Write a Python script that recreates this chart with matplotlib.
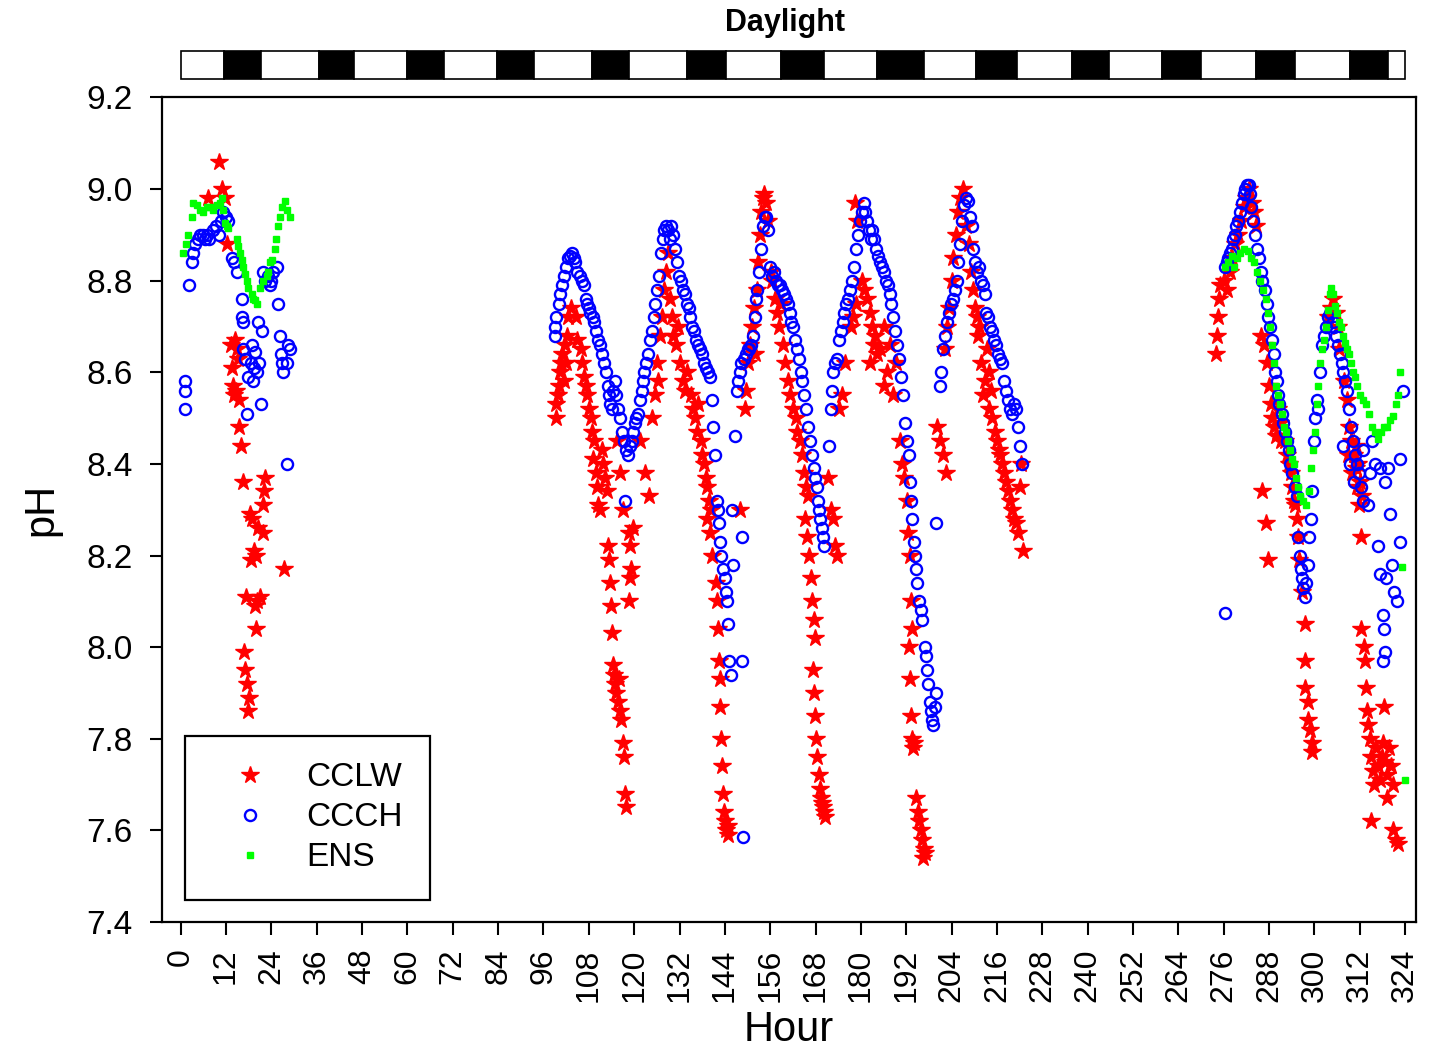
import matplotlib
matplotlib.use("Agg")
import matplotlib.pyplot as plt
from matplotlib.patches import Rectangle

plt.rcParams['font.family'] = ['Liberation Sans', 'DejaVu Sans']

# dark periods (hour start, hour end) for the Daylight bar
dark_start = [11.5, 36.6, 59.9, 83.6, 108.8, 133.9, 158.8, 184.3, 210.5, 235.9, 259.8, 284.5, 309.4]
dark_end = [21.2, 45.8, 69.7, 93.5, 118.6, 144.3, 170.3, 196.7, 221.2, 245.6, 269.9, 294.9, 319.4]

# CCLW (red stars), (hour, pH)
cclw_a = [(10.2, 9.06), (7.3, 8.98), (10.8, 9.00), (11.7, 8.98), (12.2, 8.88), (14.4, 8.67),
          (15.2, 8.63), (13.5, 8.61), (13.8, 8.57), (14.5, 8.56), (14.0, 8.55), (15.5, 8.54),
          (15.5, 8.48), (16.0, 8.44), (16.4, 8.36), (22.3, 8.37), (22.0, 8.34), (21.9, 8.31),
          (18.3, 8.29), (18.8, 8.28), (20.5, 8.26), (21.7, 8.25), (19.4, 8.21), (19.9, 8.20),
          (18.5, 8.19), (27.2, 8.17), (17.3, 8.11), (21.0, 8.11), (20.3, 8.10), (19.7, 8.09),
          (19.9, 8.04), (16.8, 7.99), (17.0, 7.95), (17.5, 7.92), (18.0, 7.89), (17.8, 7.86),
          (14.8, 8.65), (13.2, 8.66)]
cclw_b = [(99.2, 8.50), (99.4, 8.53), (99.8, 8.55), (100.2, 8.57), (100.4, 8.60), (100.7, 8.62),
          (101.0, 8.64), (101.3, 8.58), (101.6, 8.66), (102.0, 8.62), (102.3, 8.68), (102.6, 8.72),
          (103.4, 8.74), (104.5, 8.72), (105.0, 8.67), (105.8, 8.65), (106.3, 8.62), (106.8, 8.59),
          (107.2, 8.57), (107.6, 8.55), (108.0, 8.52), (108.5, 8.50), (108.9, 8.47), (109.3, 8.45),
          (109.0, 8.41), (109.8, 8.38), (110.2, 8.35), (110.5, 8.31), (111.0, 8.30), (111.4, 8.43),
          (111.8, 8.40), (112.3, 8.37), (112.7, 8.34), (113.0, 8.22), (113.4, 8.19), (113.6, 8.14),
          (113.9, 8.09), (114.2, 8.03), (114.5, 7.96), (114.7, 7.94), (115.0, 7.92), (115.3, 7.90),
          (115.7, 7.88), (116.0, 7.93), (116.3, 7.86), (116.6, 7.84), (117.0, 7.79), (117.3, 7.76),
          (117.6, 7.68), (117.8, 7.65), (115.5, 8.45), (116.2, 8.38), (117.0, 8.30), (118.5, 8.25),
          (118.9, 8.22), (119.2, 8.17), (119.0, 8.15), (118.7, 8.10), (119.6, 8.26), (121.6, 8.45),
          (122.8, 8.38), (123.9, 8.33), (124.8, 8.50), (125.5, 8.55), (126.0, 8.62), (126.3, 8.58),
          (126.8, 8.68), (127.3, 8.72), (127.8, 8.78), (128.3, 8.82), (128.9, 8.86), (129.6, 8.76),
          (130.0, 8.72), (130.4, 8.68), (131.0, 8.66), (131.5, 8.70), (132.2, 8.62), (132.8, 8.58),
          (133.5, 8.56), (134.0, 8.60), (135.0, 8.55), (135.5, 8.52), (136.0, 8.50), (136.6, 8.47),
          (137.0, 8.53), (137.6, 8.45), (138.0, 8.42), (138.5, 8.40), (139.0, 8.37), (139.4, 8.35),
          (139.8, 8.32), (139.2, 8.28), (140.0, 8.25), (140.6, 8.20), (140.3, 8.30), (141.6, 8.14),
          (141.9, 8.10), (142.2, 8.04), (142.4, 7.97), (142.6, 7.93), (142.8, 7.87), (143.1, 7.80),
          (143.3, 7.74), (143.6, 7.68), (143.9, 7.64), (144.1, 7.62), (144.4, 7.60), (144.7, 7.59),
          (144.9, 7.61), (148.0, 8.30), (149.2, 8.52), (149.6, 8.56), (150.2, 8.62), (150.6, 8.66),
          (151.1, 8.70), (151.6, 8.74), (151.9, 8.64), (152.5, 8.78), (152.9, 8.84), (153.2, 8.90),
          (153.6, 8.95), (154.0, 8.98), (154.4, 8.99), (154.9, 8.97), (155.3, 8.93), (156.1, 8.82),
          (156.6, 8.80), (157.2, 8.76), (157.8, 8.73), (158.4, 8.70), (158.9, 8.75), (159.4, 8.66),
          (160.0, 8.62), (160.6, 8.58), (161.2, 8.55), (161.9, 8.52), (162.7, 8.50), (163.2, 8.47),
          (163.8, 8.45), (164.3, 8.42), (164.9, 8.38), (165.4, 8.35), (165.9, 8.33), (165.2, 8.28),
          (165.7, 8.24), (166.2, 8.20), (166.7, 8.15), (167.1, 8.10), (167.5, 8.06), (167.9, 8.02),
          (167.3, 7.95), (167.6, 7.90), (167.9, 7.85), (168.2, 7.80), (168.5, 7.76), (168.8, 7.72),
          (169.1, 7.69), (169.4, 7.67), (169.7, 7.66), (170.0, 7.65), (170.3, 7.64), (170.6, 7.63),
          (171.4, 8.37), (172.1, 8.30), (172.6, 8.28), (173.2, 8.22), (173.7, 8.20), (174.3, 8.52),
          (175.0, 8.55), (175.7, 8.62), (177.3, 8.70), (178.0, 8.72), (178.6, 8.75), (178.4, 8.97),
          (179.1, 8.93), (180.3, 8.80), (180.9, 8.78), (181.6, 8.76), (182.3, 8.73), (182.9, 8.70),
          (183.5, 8.66), (184.2, 8.64), (182.5, 8.62), (183.8, 8.68), (185.1, 8.65), (186.2, 8.70),
          (187.0, 8.60), (187.8, 8.66), (186.0, 8.57), (188.5, 8.55), (189.2, 8.62), (190.3, 8.45),
          (190.9, 8.40), (191.5, 8.37), (192.1, 8.32), (192.4, 8.25), (192.9, 8.20), (193.3, 8.10),
          (193.6, 8.04), (192.7, 8.00), (193.0, 7.93), (193.2, 7.85), (193.5, 7.80), (193.8, 7.78),
          (194.1, 7.79), (194.6, 7.67), (195.0, 7.64), (195.4, 7.62), (195.8, 7.60), (196.2, 7.58),
          (196.6, 7.56), (196.9, 7.55), (196.4, 7.54), (200.2, 8.48), (200.9, 8.45), (201.6, 8.42),
          (202.4, 8.38), (202.2, 8.65), (202.8, 8.70), (203.4, 8.74), (204.0, 8.80), (204.5, 8.85),
          (205.1, 8.90), (205.6, 8.95), (206.3, 8.98), (206.9, 9.00), (207.9, 8.92), (208.5, 8.88),
          (209.1, 8.82), (209.7, 8.78), (210.3, 8.74), (210.8, 8.72), (211.3, 8.70), (211.0, 8.68),
          (211.7, 8.62), (212.3, 8.55), (212.9, 8.58), (213.4, 8.65), (213.9, 8.60), (214.4, 8.56),
          (214.0, 8.52), (214.8, 8.50), (215.4, 8.47), (215.9, 8.45), (216.5, 8.43), (216.9, 8.42),
          (217.4, 8.40), (217.9, 8.38), (218.4, 8.36), (218.9, 8.34), (219.4, 8.32), (219.9, 8.30),
          (220.4, 8.28), (221.0, 8.27), (221.6, 8.25), (222.9, 8.21), (222.2, 8.35), (222.5, 8.40)]
cclw_c = [(274.0, 8.64), (274.2, 8.68), (274.5, 8.72), (274.8, 8.76), (275.1, 8.79), (276.0, 8.80),
          (277.0, 8.78), (277.7, 8.82), (278.2, 8.85), (279.0, 8.88), (279.8, 8.90), (280.5, 8.93),
          (281.3, 8.96), (282.0, 8.98), (282.8, 9.00), (283.5, 8.97), (284.0, 8.95), (284.5, 8.92),
          (285.9, 8.68), (286.6, 8.66), (287.5, 8.62), (287.9, 8.57), (288.4, 8.53), (288.8, 8.50),
          (289.3, 8.48), (289.8, 8.46), (290.3, 8.52), (290.8, 8.49), (291.3, 8.45), (286.2, 8.34),
          (287.3, 8.27), (287.7, 8.19), (292.2, 8.45), (292.8, 8.42), (293.3, 8.40), (293.8, 8.38),
          (294.2, 8.35), (294.6, 8.32), (294.9, 8.31), (295.3, 8.28), (295.6, 8.24), (295.9, 8.19),
          (296.7, 8.12), (297.5, 8.05), (297.5, 7.97), (297.6, 7.91), (298.3, 7.88), (298.4, 7.84),
          (298.8, 7.82), (299.4, 7.79), (299.5, 7.77), (303.6, 8.72), (304.3, 8.74), (305.0, 8.76),
          (305.6, 8.73), (306.3, 8.70), (306.5, 8.65), (307.8, 8.58), (308.6, 8.54), (309.2, 8.48),
          (309.7, 8.45), (310.5, 8.42), (311.0, 8.39), (311.3, 8.35), (311.8, 8.31), (312.3, 8.24),
          (308.9, 8.42), (310.0, 8.38), (310.9, 8.44), (311.6, 8.40), (312.0, 8.36), (312.6, 8.33),
          (312.4, 8.04), (313.2, 8.00), (313.4, 7.97), (313.6, 7.91), (313.9, 7.86), (314.2, 7.83),
          (314.6, 7.80), (315.0, 7.76), (315.5, 7.73), (315.9, 7.70), (316.4, 7.78), (316.9, 7.74),
          (317.3, 7.71), (317.8, 7.76), (318.2, 7.79), (318.7, 7.75), (319.2, 7.72), (319.7, 7.78),
          (320.3, 7.74), (320.8, 7.70), (318.4, 7.87), (315.1, 7.62), (319.2, 7.67), (320.8, 7.60),
          (321.6, 7.58), (322.2, 7.57)]

# CCCH (blue open circles), (hour, pH)
ccch_a = [(1.0, 8.56), (1.2, 8.58), (1.1, 8.52), (2.3, 8.79), (2.9, 8.84), (3.3, 8.86), (3.8, 8.88),
          (4.6, 8.89), (5.2, 8.90), (5.8, 8.90), (6.4, 8.89), (7.0, 8.90), (7.6, 8.89), (8.6, 8.91),
          (9.3, 8.92), (10.0, 8.90), (10.6, 8.93), (11.3, 8.95), (12.0, 8.94), (12.5, 8.93),
          (13.6, 8.85), (14.2, 8.84), (14.9, 8.82), (16.1, 8.76), (16.1, 8.72), (16.5, 8.71),
          (20.5, 8.71), (21.4, 8.69), (18.8, 8.66), (19.7, 8.645), (16.6, 8.65), (17.0, 8.63),
          (18.5, 8.62), (19.4, 8.61), (20.2, 8.60), (17.8, 8.59), (19.0, 8.58), (20.6, 8.62),
          (17.5, 8.51), (21.2, 8.53), (21.8, 8.82), (22.4, 8.80), (23.0, 8.81), (23.6, 8.79),
          (24.0, 8.80), (24.4, 8.82), (25.4, 8.83), (25.8, 8.75), (26.3, 8.68), (26.5, 8.64),
          (26.8, 8.62), (27.0, 8.60), (28.4, 8.66), (28.9, 8.65), (28.0, 8.62), (28.0, 8.40)]
ccch_b = [(99.0, 8.68), (99.0, 8.70), (99.2, 8.72), (100.0, 8.75), (100.4, 8.77), (101.0, 8.79),
          (101.4, 8.81), (102.0, 8.83), (102.5, 8.85), (103.0, 8.855), (103.5, 8.86), (104.0, 8.85),
          (104.3, 8.84), (105.0, 8.82), (105.7, 8.81), (106.2, 8.80), (106.7, 8.79), (107.2, 8.76),
          (107.5, 8.75), (108.0, 8.74), (108.3, 8.73), (109.0, 8.72), (109.4, 8.71), (110.0, 8.69),
          (110.4, 8.67), (111.0, 8.66), (111.5, 8.64), (112.0, 8.62), (112.5, 8.60), (113.0, 8.57),
          (113.3, 8.55), (113.7, 8.53), (114.1, 8.52), (114.5, 8.56), (114.9, 8.58), (115.3, 8.55),
          (115.7, 8.52), (116.2, 8.50), (116.8, 8.47), (117.3, 8.45), (117.8, 8.43), (118.4, 8.42),
          (118.9, 8.44), (119.3, 8.45), (119.7, 8.47), (117.5, 8.32), (120.1, 8.49), (120.5, 8.50),
          (121.0, 8.51), (121.5, 8.54), (122.0, 8.56), (122.3, 8.58), (122.7, 8.60), (123.1, 8.62),
          (123.6, 8.64), (124.2, 8.67), (124.7, 8.69), (125.2, 8.72), (125.6, 8.75), (126.0, 8.78),
          (126.5, 8.81), (127.1, 8.86), (127.5, 8.89), (127.9, 8.91), (128.4, 8.92), (129.0, 8.91),
          (129.4, 8.89), (129.7, 8.92), (130.2, 8.90), (130.8, 8.87), (131.3, 8.84), (131.8, 8.81),
          (132.3, 8.80), (132.9, 8.78), (133.4, 8.77), (134.0, 8.75), (134.4, 8.74), (134.8, 8.72),
          (135.3, 8.70), (135.9, 8.69), (136.4, 8.67), (136.9, 8.66), (137.5, 8.65), (138.0, 8.64),
          (138.5, 8.62), (139.0, 8.61), (139.5, 8.60), (140.1, 8.59), (140.5, 8.54), (140.9, 8.48),
          (141.5, 8.42), (141.9, 8.32), (142.2, 8.30), (142.5, 8.27), (142.7, 8.23), (143.0, 8.20),
          (143.5, 8.17), (144.0, 8.15), (144.3, 8.12), (144.6, 8.10), (144.8, 8.05), (145.2, 7.97),
          (145.5, 7.94), (145.9, 8.30), (146.2, 8.18), (146.7, 8.46), (148.6, 8.24), (148.6, 7.97),
          (148.8, 7.585), (147.2, 8.56), (147.6, 8.58), (148.0, 8.60), (148.4, 8.62), (149.1, 8.63),
          (149.6, 8.64), (150.1, 8.65), (150.5, 8.65), (150.9, 8.66), (151.4, 8.68), (152.0, 8.72),
          (152.3, 8.76), (152.6, 8.78), (153.0, 8.82), (153.5, 8.87), (154.1, 8.92), (154.5, 8.94),
          (154.9, 8.94), (155.3, 8.91), (155.9, 8.83), (156.4, 8.81), (157.0, 8.82), (157.5, 8.80),
          (158.0, 8.79), (158.5, 8.79), (159.1, 8.78), (159.6, 8.77), (160.2, 8.76), (160.7, 8.75),
          (161.2, 8.73), (161.6, 8.71), (162.0, 8.70), (162.5, 8.67), (163.1, 8.65), (163.6, 8.63),
          (164.1, 8.60), (164.5, 8.58), (164.9, 8.55), (165.4, 8.52), (166.0, 8.48), (166.5, 8.45),
          (167.1, 8.42), (167.5, 8.39), (167.9, 8.37), (168.3, 8.35), (168.7, 8.32), (169.0, 8.30),
          (169.3, 8.28), (169.7, 8.26), (170.0, 8.24), (170.3, 8.22), (171.5, 8.44), (172.1, 8.52),
          (172.3, 8.56), (172.6, 8.60), (173.2, 8.62), (173.6, 8.63), (174.2, 8.67), (174.7, 8.69),
          (175.3, 8.71), (175.6, 8.73), (176.0, 8.75), (176.5, 8.76), (177.1, 8.78), (177.6, 8.80),
          (178.2, 8.83), (178.7, 8.87), (179.2, 8.90), (179.7, 8.93), (180.3, 8.95), (180.7, 8.97),
          (181.1, 8.95), (181.6, 8.93), (182.2, 8.91), (182.6, 8.89), (183.0, 8.91), (183.5, 8.89),
          (184.0, 8.87), (184.5, 8.855), (185.1, 8.84), (185.6, 8.83), (186.1, 8.82), (186.6, 8.80),
          (187.2, 8.79), (187.6, 8.77), (188.0, 8.75), (188.5, 8.72), (189.0, 8.69), (189.5, 8.66),
          (190.1, 8.63), (190.6, 8.59), (191.2, 8.55), (191.7, 8.49), (192.2, 8.45), (192.6, 8.42),
          (193.0, 8.36), (193.3, 8.32), (193.6, 8.28), (194.1, 8.23), (194.4, 8.20), (194.6, 8.17),
          (194.8, 8.14), (195.3, 8.10), (195.9, 8.08), (196.3, 8.06), (197.0, 8.00), (197.3, 7.98),
          (197.5, 7.95), (197.8, 7.92), (198.2, 7.88), (198.5, 7.86), (198.8, 7.84), (199.2, 7.83),
          (199.6, 7.87), (199.8, 7.90), (199.9, 8.27), (200.9, 8.57), (201.2, 8.60), (201.7, 8.65),
          (202.2, 8.68), (202.8, 8.71), (203.3, 8.73), (203.9, 8.75), (204.4, 8.76), (204.9, 8.78),
          (205.3, 8.80), (205.7, 8.84), (206.2, 8.88), (206.8, 8.93), (207.2, 8.965), (207.8, 8.98),
          (208.3, 8.975), (208.9, 8.94), (209.3, 8.92), (209.7, 8.87), (210.2, 8.84), (210.7, 8.82),
          (211.2, 8.83), (211.8, 8.80), (212.3, 8.79), (212.8, 8.77), (213.2, 8.73), (213.6, 8.72),
          (214.2, 8.70), (214.7, 8.69), (215.2, 8.67), (215.7, 8.66), (216.2, 8.64), (216.8, 8.63),
          (217.3, 8.62), (217.9, 8.58), (218.4, 8.56), (218.9, 8.54), (219.4, 8.52), (220.0, 8.51),
          (220.5, 8.53), (221.0, 8.52), (221.5, 8.48), (222.1, 8.44), (222.6, 8.40)]
ccch_c = [(276.4, 8.075), (276.4, 8.83), (276.8, 8.84), (277.2, 8.85), (277.7, 8.86), (278.2, 8.87),
          (278.6, 8.89), (279.0, 8.90), (279.3, 8.92), (279.8, 8.93), (280.3, 8.95), (280.8, 8.97),
          (281.3, 8.99), (281.7, 9.00), (282.2, 9.01), (282.7, 9.01), (283.0, 8.99), (283.3, 8.96),
          (283.8, 8.93), (284.3, 8.90), (284.8, 8.87), (285.4, 8.85), (285.9, 8.82), (286.2, 8.80),
          (287.0, 8.78), (287.5, 8.75), (287.8, 8.72), (288.3, 8.70), (288.8, 8.67), (289.3, 8.64),
          (289.6, 8.60), (290.0, 8.58), (290.4, 8.55), (290.7, 8.53), (291.4, 8.51), (291.7, 8.49),
          (292.3, 8.47), (292.8, 8.45), (293.2, 8.43), (293.6, 8.40), (294.2, 8.38), (294.9, 8.35),
          (295.3, 8.33), (295.7, 8.24), (296.2, 8.20), (296.5, 8.17), (296.7, 8.15), (297.1, 8.13),
          (297.5, 8.11), (297.9, 8.14), (298.3, 8.18), (298.6, 8.24), (299.0, 8.28), (299.4, 8.34),
          (299.9, 8.45), (300.2, 8.50), (300.6, 8.54), (301.0, 8.52), (301.5, 8.60), (302.0, 8.66),
          (302.5, 8.68), (303.1, 8.70), (303.6, 8.72), (304.1, 8.73), (304.9, 8.71), (305.2, 8.70),
          (305.7, 8.68), (306.3, 8.66), (306.8, 8.64), (307.3, 8.62), (307.7, 8.60), (308.1, 8.58),
          (308.6, 8.56), (309.2, 8.52), (309.7, 8.48), (310.2, 8.45), (310.7, 8.42), (311.3, 8.40),
          (311.8, 8.38), (312.4, 8.35), (312.9, 8.32), (314.2, 8.31), (314.6, 8.38), (315.2, 8.45),
          (316.8, 8.22), (317.4, 8.16), (318.2, 8.07), (318.4, 8.04), (318.6, 7.99), (318.2, 7.97),
          (319.0, 8.15), (320.0, 8.29), (320.5, 8.18), (321.1, 8.12), (321.9, 8.10), (322.7, 8.23),
          (322.7, 8.41), (323.5, 8.56), (317.4, 8.39), (318.7, 8.36), (319.5, 8.39), (316.1, 8.40),
          (307.5, 8.44), (309.5, 8.40), (310.5, 8.36), (313.0, 8.43)]

# ENS (green squares), (hour, pH)
ens_a = [(0.7, 8.86), (1.4, 8.88), (2.0, 8.90), (2.9, 8.94), (3.3, 8.97), (4.2, 8.965), (5.1, 8.955),
         (6.0, 8.95), (6.9, 8.96), (7.8, 8.96), (8.6, 8.955), (9.5, 8.965), (10.4, 8.97), (10.8, 8.98),
         (11.3, 8.955), (11.7, 8.925), (12.2, 8.92), (12.6, 8.915), (14.8, 8.89), (15.2, 8.875),
         (15.7, 8.86), (16.1, 8.845), (16.6, 8.83), (17.0, 8.815), (17.5, 8.80), (17.9, 8.785),
         (18.8, 8.77), (19.2, 8.76), (19.7, 8.757), (20.1, 8.75), (21.0, 8.785), (21.9, 8.80),
         (22.8, 8.81), (23.2, 8.82), (23.6, 8.84), (24.1, 8.845), (25.0, 8.87), (25.2, 8.89),
         (25.8, 8.92), (26.3, 8.94), (26.7, 8.96), (27.6, 8.975), (28.0, 8.955), (28.9, 8.94)]
ens_c = [(276.4, 8.83), (277.2, 8.84), (278.2, 8.855), (278.7, 8.83), (279.5, 8.85), (280.3, 8.86),
         (281.4, 8.87), (282.4, 8.865), (283.3, 8.85), (284.1, 8.84), (284.8, 8.82), (285.6, 8.80),
         (286.4, 8.78), (287.2, 8.76), (287.8, 8.73), (288.3, 8.70), (288.8, 8.66), (289.4, 8.62),
         (289.9, 8.57), (290.4, 8.55), (290.9, 8.53), (291.4, 8.51), (292.0, 8.48), (292.5, 8.47),
         (293.0, 8.45), (293.6, 8.43), (294.1, 8.41), (294.6, 8.40), (295.2, 8.37), (295.7, 8.35),
         (296.2, 8.33), (297.0, 8.32), (297.8, 8.31), (298.6, 8.34), (299.1, 8.39), (299.6, 8.43),
         (300.2, 8.47), (300.7, 8.53), (301.0, 8.57), (301.5, 8.62), (302.0, 8.65), (302.5, 8.67),
         (303.1, 8.70), (303.6, 8.735), (304.1, 8.77), (304.4, 8.785), (304.9, 8.77), (305.5, 8.745),
         (306.0, 8.73), (306.5, 8.71), (307.0, 8.70), (307.6, 8.68), (308.1, 8.665), (308.6, 8.65),
         (309.2, 8.64), (309.7, 8.62), (310.2, 8.60), (310.8, 8.59), (311.3, 8.57), (312.1, 8.55),
         (312.9, 8.54), (313.7, 8.53), (314.5, 8.51), (315.3, 8.48), (316.1, 8.47), (316.9, 8.455),
         (317.7, 8.47), (318.5, 8.48), (319.2, 8.48), (320.0, 8.495), (320.8, 8.505), (321.6, 8.53),
         (322.2, 8.55), (322.7, 8.60), (323.2, 8.175), (324.0, 7.71)]

hour_ticks = list(range(0, 325, 12))
ph_ticks = [7.4, 7.6, 7.8, 8.0, 8.2, 8.4, 8.6, 8.8, 9.0, 9.2]

fig = plt.figure(figsize=(14.3, 10.55), dpi=100)
ax = fig.add_axes([0.1131, 0.1261, 0.8771, 0.7815])

red = cclw_a + cclw_b + cclw_c
blue = ccch_a + ccch_b + ccch_c
green = ens_a + ens_c

ax.plot([p[0] for p in red], [p[1] for p in red], linestyle='none', marker='*', ms=13,
        color='#ff0000', mec='#ff0000', label='CCLW', zorder=2)
ax.plot([p[0] for p in blue], [p[1] for p in blue], linestyle='none', marker='o', ms=8,
        mfc='none', mec='#0000ff', mew=1.7, label='CCCH', zorder=3)
ax.plot([p[0] for p in green], [p[1] for p in green], linestyle='none', marker='s', ms=4.2,
        color='#00ff00', mec='#00ff00', label='ENS', zorder=4)

ax.set_xlim(-5.03, 326.9)
ax.set_ylim(7.4, 9.2)
ax.set_xticks(hour_ticks)
ax.set_xticklabels([str(h) for h in hour_ticks], rotation=90, fontsize=23)
ax.set_yticks(ph_ticks)
ax.set_yticklabels(['%.1f' % v for v in ph_ticks], fontsize=24)
ax.tick_params(direction='out', length=9, width=1.5, pad=10)
ax.tick_params(axis='y', pad=12)
for s in ax.spines.values():
    s.set_linewidth(1.6)
ax.set_xlabel('Hour', fontsize=30, labelpad=6)
ax.set_ylabel('pH', fontsize=30, labelpad=18)

leg = ax.legend(loc='lower left', bbox_to_anchor=(0.0186, 0.0267), borderaxespad=0,
                fontsize=24, frameon=True, fancybox=False, framealpha=1,
                handlelength=2.3, handletextpad=0.55, borderpad=0.8, labelspacing=0.27,
                numpoints=1)
leg.get_frame().set_edgecolor('black')
leg.get_frame().set_linewidth(1.6)

# daylight bar
bar = fig.add_axes([0.1131, 0.9254, 0.8771, 0.0265])
bar.set_xlim(-5.03, 326.9)
bar.set_ylim(0, 1)
bar.axis('off')
edges = [0] + sorted(dark_start + dark_end) + [324]
for i in range(len(edges) - 1):
    col = 'black' if i % 2 == 1 else 'white'
    bar.add_patch(Rectangle((edges[i], 0), edges[i + 1] - edges[i], 1,
                            facecolor=col, edgecolor='black', lw=1.2, clip_on=False))
fig.text(0.5493, 0.978, 'Daylight', fontsize=22, fontweight='bold', ha='center', va='center')

fig.savefig('out.png', dpi=100)
